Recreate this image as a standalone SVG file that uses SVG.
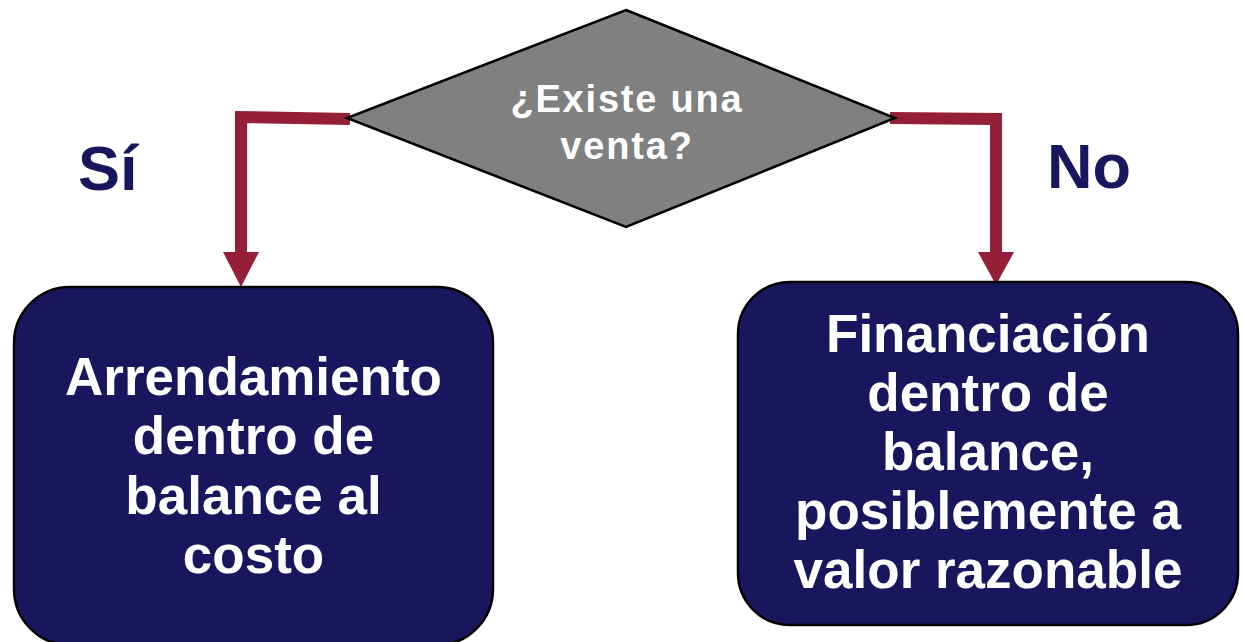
<svg xmlns="http://www.w3.org/2000/svg" width="1243" height="642" viewBox="0 0 1243 642">
<style>
.box{fill:#18175E;stroke:#000;stroke-width:2.5}
.dia{fill:#808080;stroke:#000;stroke-width:2.5}
.t{font-family:"Liberation Sans",Arial,sans-serif;font-weight:bold;fill:#fff;text-anchor:middle}
.bt{font-size:53px}
.dt{font-size:38px;letter-spacing:1.8px}
.lbl{font-family:"Liberation Sans",Arial,sans-serif;font-weight:bold;font-size:63px;fill:#18175E}
.con{fill:none;stroke:#961F38;stroke-width:12;stroke-linejoin:miter}
.ah{fill:#961F38}
</style>
<rect width="1243" height="642" fill="#fff"/>
<g id="connectors">
<path class="con" d="M350,119 L241,117 L241,254"/>
<polygon class="ah" points="223,252 259,252 241,287"/>
<path class="con" d="M890,118 L996,119 L996,254"/>
<polygon class="ah" points="978,252 1014,252 996,285"/>
</g>
<g id="decision">
<polygon class="dia" points="626,10 895,118 626,227 347,118"/>
<text class="t dt" x="627" y="112">¿Existe una</text>
<text class="t dt" x="627" y="159">venta?</text>
</g>
<g id="label-si">
<text class="lbl" x="78" y="190">Sí</text>
</g>
<g id="label-no">
<text class="lbl" x="1047" y="188">No</text>
</g>
<g id="box-left">
<rect class="box" x="14" y="287" width="479" height="358" rx="56" ry="56"/>
<text class="t bt" x="253.5" y="395">Arrendamiento</text>
<text class="t bt" x="253.5" y="454">dentro de</text>
<text class="t bt" x="253.5" y="514">balance al</text>
<text class="t bt" x="253.5" y="573">costo</text>
</g>
<g id="box-right">
<rect class="box" x="738" y="282" width="500" height="343" rx="52" ry="52"/>
<text class="t bt" x="988" y="352">Financiación</text>
<text class="t bt" x="988" y="411">dentro de</text>
<text class="t bt" x="988" y="470">balance,</text>
<text class="t bt" x="988" y="529">posiblemente a</text>
<text class="t bt" x="988" y="588">valor razonable</text>
</g>
</svg>
